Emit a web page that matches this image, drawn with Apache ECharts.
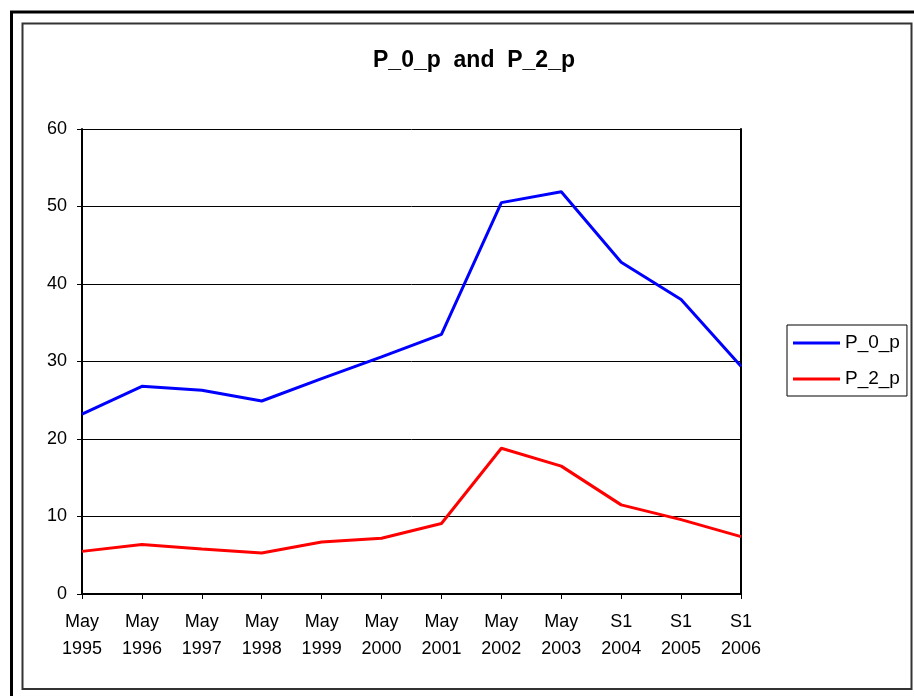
<!DOCTYPE html>
<html>
<head>
<meta charset="utf-8">
<script src="https://cdn.jsdelivr.net/npm/echarts@6/dist/echarts.min.js"></script>
<style>
html,body{margin:0;padding:0;background:#fff;}
#chart{width:914px;height:696px;}
</style>
</head>
<body>
<div id="chart"></div>
<script>
const categories = ['May\n1995','May\n1996','May\n1997','May\n1998','May\n1999','May\n2000','May\n2001','May\n2002','May\n2003','S1\n2004','S1\n2005','S1\n2006'];
const P_0_p = [23.2, 26.8, 26.3, 24.9, 27.8, 30.6, 33.5, 50.5, 51.9, 42.8, 38.0, 29.4];
const P_2_p = [5.5, 6.4, 5.8, 5.3, 6.7, 7.2, 9.1, 18.8, 16.5, 11.5, 9.6, 7.4];
const yTicks = {min: 0, max: 60, interval: 10};

const font = 'Liberation Sans, Arial, sans-serif';
const chart = echarts.init(document.getElementById('chart'));
chart.setOption({
  animation: false,
  backgroundColor: '#fff',
  title: {
    text: 'P_0_p  and  P_2_p',
    left: 469, top: 44, textAlign: 'center',
    textStyle: {fontFamily: font, fontSize: 23, fontWeight: 'bold', color: '#000'}
  },
  graphic: [
    {type: 'polyline', shape: {points: [[11.5, 696], [11.5, 12], [914, 12]]}, style: {stroke: '#000', lineWidth: 3, fill: null}},
    {type: 'rect', shape: {x: 22.5, y: 23.5, width: 889, height: 665.5}, style: {stroke: '#333', lineWidth: 2, fill: null}}
  ],
  legend: {
    orient: 'vertical',
    left: 787, top: 325,
    padding: [8, 7, 7, 6],
    borderColor: '#000', borderWidth: 1,
    icon: 'rect',
    itemWidth: 47, itemHeight: 3, itemGap: 16,
    textStyle: {fontFamily: font, fontSize: 19, lineHeight: 20, color: '#000'},
    data: ['P_0_p', 'P_2_p']
  },
  grid: {left: 82, right: 173, top: 129, bottom: 102, containLabel: false},
  xAxis: {
    type: 'category',
    data: categories,
    boundaryGap: false,
    axisLine: {lineStyle: {color: '#000', width: 2}},
    axisTick: {show: true, length: 5, lineStyle: {color: '#000', width: 1}},
    axisLabel: {fontFamily: font, fontSize: 18, color: '#000', lineHeight: 27, margin: 15, interval: 0},
    splitLine: {show: false}
  },
  yAxis: [{
    type: 'value',
    min: yTicks.min, max: yTicks.max, interval: yTicks.interval,
    axisLine: {show: true, lineStyle: {color: '#000', width: 2}},
    axisTick: {show: true, length: 5, lineStyle: {color: '#000', width: 1}},
    axisLabel: {fontFamily: font, fontSize: 18, color: '#000', margin: 15},
    splitLine: {show: true, lineStyle: {color: '#000', width: 1}}
  }, {
    type: 'value',
    position: 'right',
    min: yTicks.min, max: yTicks.max, interval: yTicks.interval,
    axisLine: {show: true, onZero: false, lineStyle: {color: '#000', width: 2}},
    axisTick: {show: false},
    axisLabel: {show: false},
    splitLine: {show: false}
  }],
  series: [
    {name: 'P_0_p', type: 'line', data: P_0_p, symbol: 'none', lineStyle: {color: '#0000FF', width: 3}, itemStyle: {color: '#0000FF'}},
    {name: 'P_2_p', type: 'line', data: P_2_p, symbol: 'none', lineStyle: {color: '#FF0000', width: 3}, itemStyle: {color: '#FF0000'}}
  ]
});
</script>
</body>
</html>
